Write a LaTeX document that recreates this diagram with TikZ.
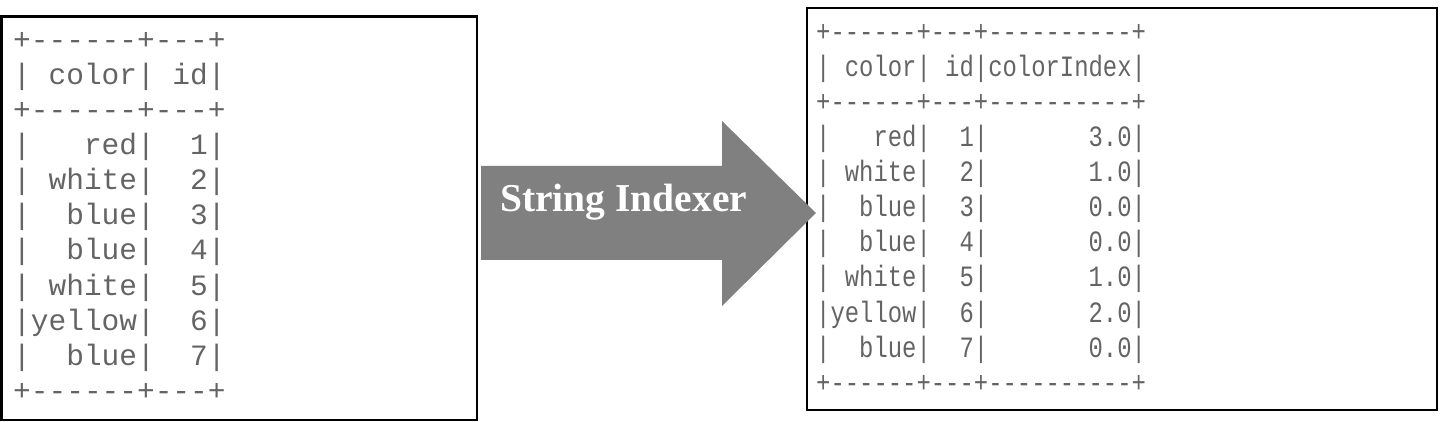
\documentclass[tikz,border=0pt]{standalone}
\usepackage{fontspec}
\newfontfamily\tabfont{Liberation Mono}
\newfontfamily\tabslim[FakeStretch=0.81]{Liberation Mono}
\newfontfamily\labfont{Liberation Serif}
\definecolor{tabtext}{RGB}{100,100,100}
\definecolor{arrowgray}{RGB}{128,128,128}
\begin{document}
\begin{tikzpicture}[x=1pt,y=-1pt,
  row/.style={anchor=base west,inner sep=0pt,text=tabtext,font=\tabfont\fontsize{29.5}{35}\selectfont},
  rowslim/.style={row,font=\tabslim\fontsize{29.5}{35}\selectfont},
  frame/.style={draw,line width=2.5pt}]
\useasboundingbox (0,0) rectangle (1441,422);
% Input table
\draw[frame] (1.5,16.5) rectangle (477,420);
\foreach \i/\txt in {0/+------+---+,1/|~color|~id|,2/+------+---+,3/|~~~red|~~1|,4/|~white|~~2|,5/|~~blue|~~3|,6/|~~blue|~~4|,7/|~white|~~5|,8/|yellow|~~6|,9/|~~blue|~~7|,10/+------+---+} {\node[row] (l\i) at (13,50+35*\i) {\txt};}
% Output table
\draw[frame] (807,8) rectangle (1437,410);
\foreach \i/\txt in {0/+------+---+----------+,1/|~color|~id|colorIndex|,2/+------+---+----------+,3/|~~~red|~~1|~~~~~~~3.0|,4/|~white|~~2|~~~~~~~1.0|,5/|~~blue|~~3|~~~~~~~0.0|,6/|~~blue|~~4|~~~~~~~0.0|,7/|~white|~~5|~~~~~~~1.0|,8/|yellow|~~6|~~~~~~~2.0|,9/|~~blue|~~7|~~~~~~~0.0|,10/+------+---+----------+} {\node[rowslim] (r\i) at (816,42+35*\i) {\txt};}
% Transformation arrow
\fill[arrowgray] (481,166) -- (722,166) -- (722,121) -- (816,213) -- (722,306) -- (722,260) -- (481,260) -- cycle;
\node[anchor=base west,inner sep=0pt,text=white,font=\labfont\bfseries\fontsize{39.5}{44}\selectfont] (idx) at (500,212) {String Indexer};
\end{tikzpicture}
\end{document}
